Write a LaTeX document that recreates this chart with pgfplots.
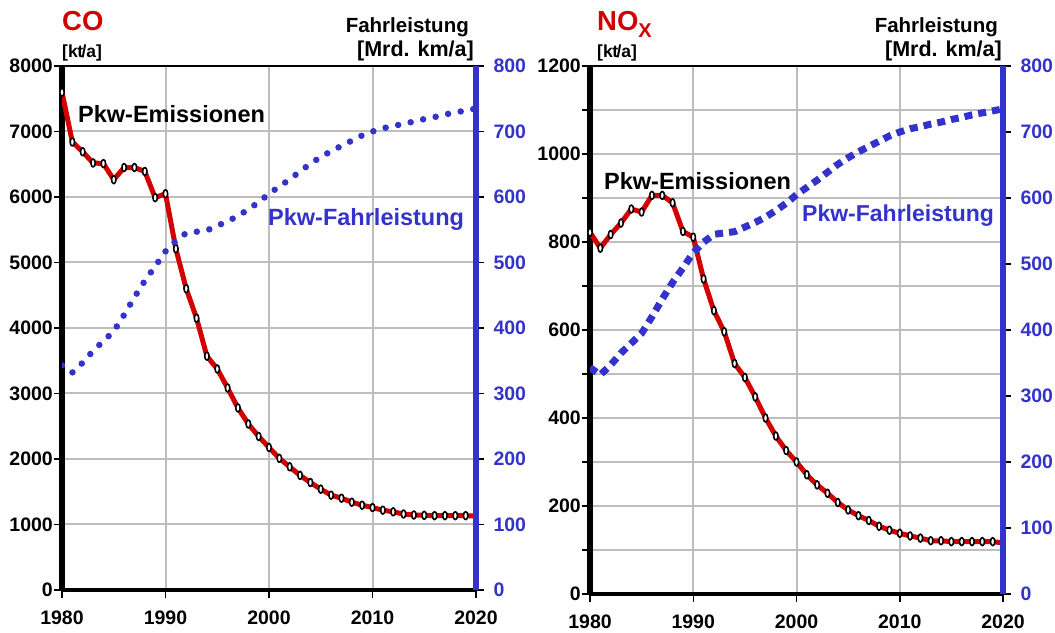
\documentclass[border=0pt]{standalone}
\usepackage{fontspec}
\setmainfont{Liberation Sans}
\usepackage{pgfplots}
\usepackage{pgfplotstable}
\pgfplotsset{compat=1.18}
\definecolor{myred}{RGB}{210,0,0}
\definecolor{myblue}{RGB}{51,51,204}
\definecolor{mygrid}{RGB}{190,190,190}

\pgfplotstableread{
year co nox
1980 7600 822
1981 6840 786
1982 6690 817
1983 6520 843
1984 6510 875
1985 6265 868
1986 6450 906
1987 6450 906
1988 6390 889
1989 5990 824
1990 6050 811
1991 5210 716
1992 4600 644
1993 4150 596
1994 3570 524
1995 3375 492
1996 3085 448
1997 2780 400
1998 2535 359
1999 2345 326
2000 2176 300
2001 2010 271
2002 1880 248
2003 1750 229
2004 1641 208
2005 1540 191
2006 1448 178
2007 1402 167
2008 1341 154
2009 1295 145
2010 1258 138
2011 1219 132
2012 1193 127
2013 1160 121
2014 1145 121
2015 1140 119
2016 1135 119
2017 1135 119
2018 1135 119
2019 1135 119
2020 1130 116
}\emis

\pgfplotstableread{
year fl
1980 343
1981 332
1982 347
1983 365
1984 380
1985 395
1986 420
1987 447
1988 472
1989 494
1990 517
1991 533
1992 545
1993 547
1994 549
1995 556
1996 563
1997 571
1998 581
1999 592
2000 605
2001 616
2002 627
2003 639
2004 651
2005 661
2006 670
2007 678
2008 686
2009 694
2010 700
2011 705
2012 708
2013 712
2014 715
2015 719
2016 722
2017 726
2018 729
2019 732
2020 735
}\fahr

\newcommand\tl{\fontsize{19.5}{19.5}\selectfont\bfseries}

\pgfplotsset{
  base/.style={
    anchor=south west, scale only axis,
    xmin=1980, xmax=2020,
    /pgf/number format/assume math mode=true,
    /pgf/number format/1000 sep={},
    scaled ticks=false,
    ticklabel style={font=\tl},
    tick style={black, line width=1.5pt},
    axis line style={-},
  },
  leftax/.style={
    base,
    axis x line*=bottom, axis y line*=left,
    x axis line style={black, line width=4.5pt},
    y axis line style={black, line width=6pt},
    xtick={1980,1990,...,2020},
    tick align=outside,
    major tick length=8pt, minor tick length=8pt,
    grid=both,
    major grid style={mygrid, line width=2pt},
    minor grid style={mygrid, line width=2pt},
    xticklabel style={yshift=-9pt},
    yticklabel style={inner sep=1pt},
  },
  rightax/.style={
    base,
    axis x line=none, axis y line*=right,
    y axis line style={myblue, line width=6pt},
    ymin=0, ymax=800, ytick={0,100,...,800},
    ytick pos=right,
    tick align=outside, major tick length=8pt,
    yticklabel style={myblue, xshift=6pt},
  },
  emline/.style={myred, line width=5pt, line join=round,
    mark=*, mark size=4pt,
    mark options={fill=white, draw=black, line width=1.6pt, xscale=0.55, solid}},
}

\begin{document}
\begin{tikzpicture}[x=1pt,y=1pt]
\path[use as bounding box] (0,0) rectangle (1055,632);

% ---------------- CO ----------------
\begin{axis}[leftax, at={(62pt,42pt)}, width=414pt, height=524pt,
  ymin=0, ymax=8000, ytick={0,1000,...,8000}, xtick pos=bottom, ytick pos=left]
  \addplot[emline] table[x=year,y=co]{\emis};
  \draw[black, line width=2pt] (rel axis cs:0,1) -- (rel axis cs:1,1);
\end{axis}
\begin{axis}[rightax, at={(62pt,42pt)}, width=414pt, height=524pt]
  \addplot[myblue, line width=6.5pt, line cap=round, dash pattern=on 0pt off 12.8pt] table[x=year,y=fl]{\fahr};
\end{axis}

% ---------------- NOx ----------------
\begin{axis}[leftax, at={(590pt,38pt)}, width=413pt, height=528pt,
  ymin=0, ymax=1200, ytick={0,200,...,1200}, minor ytick={100,300,...,1100},
  xtick pos=bottom, ytick pos=left]
  \addplot[emline] table[x=year,y=nox]{\emis};
  \draw[black, line width=2pt] (rel axis cs:0,1) -- (rel axis cs:1,1);
\end{axis}
\begin{axis}[rightax, at={(590pt,38pt)}, width=413pt, height=528pt]
  \addplot[myblue, line width=7pt, line cap=butt, dash pattern=on 8pt off 6pt] table[x=year,y=fl]{\fahr};
\end{axis}

% ---------------- texts ----------------
\node[anchor=base west, inner sep=0pt, text=myred, font=\fontsize{27.5}{27.5}\selectfont\bfseries] at (62,601) {CO};
\node[anchor=base west, inner sep=0pt, font=\fontsize{17.5}{17.5}\selectfont\bfseries] at (62,574) {[k\kern-0.5pt t\kern-1.5pt/a]};
\node[anchor=base east, inner sep=0pt, font=\fontsize{20.5}{20.5}\selectfont\bfseries] at (469,599) {Fahrleistung};
\node[anchor=base east, inner sep=0pt, font=\fontsize{21.5}{21.5}\selectfont\bfseries] at (474,575) {[Mrd. km/a]};
\node[anchor=base west, inner sep=0pt, font=\fontsize{23.5}{23.5}\selectfont\bfseries] at (78,509) {Pkw-Emissionen};
\node[anchor=base west, inner sep=0pt, text=myblue, font=\fontsize{23.5}{23.5}\selectfont\bfseries] at (268,406) {Pkw-Fahrleistung};

\node[anchor=base west, inner sep=0pt, text=myred, font=\fontsize{27.5}{27.5}\selectfont\bfseries] at (597,601) {NO\raisebox{-7pt}{\fontsize{20}{20}\selectfont X}};
\node[anchor=base west, inner sep=0pt, font=\fontsize{17.5}{17.5}\selectfont\bfseries] at (597,574) {[k\kern-0.5pt t\kern-1.5pt/a]};
\node[anchor=base east, inner sep=0pt, font=\fontsize{20.5}{20.5}\selectfont\bfseries] at (998,599) {Fahrleistung};
\node[anchor=base east, inner sep=0pt, font=\fontsize{21.5}{21.5}\selectfont\bfseries] at (1002,575) {[Mrd. km/a]};
\node[anchor=base west, inner sep=0pt, font=\fontsize{23.5}{23.5}\selectfont\bfseries] at (604,442) {Pkw-Emissionen};
\node[anchor=base west, inner sep=0pt, text=myblue, font=\fontsize{23}{23}\selectfont\bfseries] at (802,410) {Pkw-Fahrleistung};
\end{tikzpicture}
\end{document}
